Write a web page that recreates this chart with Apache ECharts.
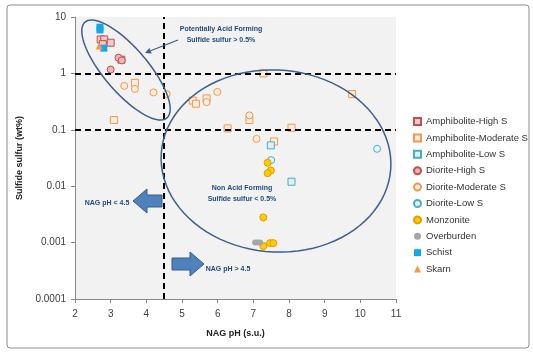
<!DOCTYPE html>
<html>
<head>
<meta charset="utf-8">
<script src="https://cdn.jsdelivr.net/npm/echarts@6/dist/echarts.min.js"></script>
<style>
html,body{margin:0;padding:0;background:#fff;}
#main{width:533px;height:352px;}
</style>
</head>
<body>
<div id="main"></div>
<script>
// values: [NAG pH, sulfide sulfur wt%]
var amphHigh = [[2.72, 4.0], [2.82, 4.0], [3.0, 3.5], [2.78, 3.3], [3.3, 1.75]];
var amphMod = [[3.68, 0.68], [3.09, 0.149], [5.3, 0.33], [5.39, 0.29], [5.69, 0.36], [6.89, 0.149],
               [6.28, 0.106], [8.07, 0.109], [7.58, 0.062], [9.77, 0.43], [7.28, 1.0]];
var amphLow = [[7.49, 0.053], [8.07, 0.012]];
var dioHigh = [[3.22, 1.9], [3.31, 1.7], [3.0, 1.17]];
var dioMod = [[3.38, 0.6], [3.68, 0.53], [4.2, 0.46], [4.57, 0.43], [5.69, 0.31], [5.99, 0.47],
              [6.89, 0.18], [7.09, 0.069]];
var dioLow = [[10.47, 0.046], [7.5, 0.029]];
var monzonite = [[7.4, 0.026], [7.49, 0.019], [7.4, 0.017], [7.28, 0.0028], [7.28, 0.00087],
                 [7.47, 0.00098], [7.56, 0.00098]];
var overburden = [[7.05, 0.001], [7.11, 0.001], [7.19, 0.001]];
var schist = [[2.7, 6.6], [2.7, 5.9], [2.81, 2.8]];
var skarn = [[2.68, 3.05]];

var xTicks = [2, 3, 4, 5, 6, 7, 8, 9, 10, 11];
var yTickLabels = ['0.0001', '0.001', '0.01', '0.1', '1', '10'];
var names = ['Amphibolite-High S', 'Amphibolite-Moderate S', 'Amphibolite-Low S', 'Diorite-High S',
             'Diorite-Moderate S', 'Diorite-Low S', 'Monzonite', 'Overburden', 'Schist', 'Skarn'];

function sc(name, data, symbol, fill, stroke, size) {
    return {
        name: name, type: 'scatter', data: data, symbol: symbol, symbolSize: size || 6,
        itemStyle: { color: fill, borderColor: stroke, borderWidth: stroke ? 1 : 0, opacity: 1 },
        z: 3
    };
}

function ellipse(cx, cy, rx, ry, deg) {
    var pts = [], a = deg * Math.PI / 180;
    for (var i = 0; i < 90; i++) {
        var t = i / 90 * Math.PI * 2;
        var x = rx * Math.cos(t), y = ry * Math.sin(t);
        pts.push([cx + x * Math.cos(a) - y * Math.sin(a), cy + x * Math.sin(a) + y * Math.cos(a)]);
    }
    return {
        type: 'polygon', shape: { points: pts }, z: 10,
        style: { fill: 'none', stroke: '#3d5f8a', lineWidth: 1.5 }
    };
}

function label(x, y, text) {
    return {
        type: 'text', x: x, y: y, z: 11,
        style: { text: text, fill: '#1f497d', font: 'bold 7px "Liberation Sans Narrow", "Liberation Sans", sans-serif',
                 align: 'center', verticalAlign: 'middle' }
    };
}

function blockArrow(pts) {
    return { type: 'polygon', shape: { points: pts }, z: 11,
             style: { fill: '#4f81bd', stroke: '#385d8a', lineWidth: 1 } };
}

// callout arrow head
var cs = [178, 40], ce = [145, 53];
var dl = Math.hypot(ce[0] - cs[0], ce[1] - cs[1]);
var dx = (ce[0] - cs[0]) / dl, dy = (ce[1] - cs[1]) / dl;
var hb = [ce[0] - dx * 6, ce[1] - dy * 6];

var myChart = echarts.init(document.getElementById('main'));
var option = {
    backgroundColor: '#fff',
    animation: false,
    textStyle: { fontFamily: '"Liberation Sans", sans-serif' },
    grid: { left: 75, top: 17, right: 137, bottom: 53, show: true, backgroundColor: '#f2f2f2', borderWidth: 0 },
    xAxis: {
        type: 'value', min: 2, max: 11, interval: 1,
        name: 'NAG pH (s.u.)', nameLocation: 'middle', nameGap: 30,
        nameTextStyle: { fontSize: 9, fontWeight: 'bold', color: '#222' },
        axisLine: { show: true, lineStyle: { color: '#888' } },
        axisTick: { show: true, length: 4, lineStyle: { color: '#888' } },
        axisLabel: { fontSize: 10, color: '#404040', margin: 10,
                     formatter: function (v) { return xTicks.indexOf(v) >= 0 ? String(v) : ''; } },
        splitLine: { show: false }
    },
    yAxis: {
        type: 'log', logBase: 10, min: 0.0001, max: 10,
        name: 'Sulfide sulfur (wt%)', nameLocation: 'middle', nameGap: 45,
        nameTextStyle: { fontSize: 9, fontWeight: 'bold', color: '#222' },
        axisLine: { show: true, lineStyle: { color: '#888' } },
        axisTick: { show: true, length: 4, lineStyle: { color: '#888' } },
        axisLabel: { fontSize: 10, color: '#404040', margin: 9,
                     formatter: function (v) { return yTickLabels[Math.round(Math.log10(v)) + 4]; } },
        splitLine: { show: false },
        minorTick: { show: false }
    },
    legend: {
        data: names, orient: 'vertical', left: 408, top: 111,
        itemWidth: 7, itemHeight: 7, itemGap: 5.4,
        textStyle: { fontSize: 9.5, color: '#333', lineHeight: 11 }
    },
    series: [
        sc(names[0], amphHigh, 'rect', '#f2c9c8', '#c0504d', 7),
        sc(names[1], amphMod, 'rect', '#fbeee4', '#f79646', 7),
        sc(names[2], amphLow, 'rect', '#def0f5', '#4bacc6', 7),
        sc(names[3], dioHigh, 'circle', '#e8b6b5', '#c0504d', 7),
        sc(names[4], dioMod, 'circle', '#fbeee4', '#f79646', 7),
        sc(names[5], dioLow, 'circle', '#e6f4f8', '#4bacc6', 7),
        sc(names[6], monzonite, 'circle', '#ffcc00', '#e69b00', 7),
        sc(names[7], overburden, 'circle', '#a6a6a6', null, 6),
        sc(names[8], schist, 'rect', '#10a8e6', null, 7),
        sc(names[9], skarn, 'triangle', '#f79646', null, 7),
        {
            name: 'limits', type: 'scatter', data: [], silent: true,
            markLine: {
                silent: true, symbol: 'none', label: { show: false },
                lineStyle: { color: '#000', width: 2, type: [6, 4] },
                data: [{ yAxis: 1 }, { yAxis: 0.1 }, { xAxis: 4.5 }]
            }
        }
    ],
    graphic: [
        { type: 'rect', shape: { x: 7, y: 5, width: 522, height: 343, r: 3 }, z: 0,
          style: { fill: 'none', stroke: '#8c8c8c', lineWidth: 1 } },
        ellipse(126, 70, 63, 22, 49.5),
        ellipse(276, 161, 115, 91, 4),
        label(221, 29, 'Potentially Acid Forming'),
        label(221, 40, 'Sulfide sulfur > 0.5%'),
        { type: 'line', shape: { x1: cs[0], y1: cs[1], x2: hb[0], y2: hb[1] }, z: 11,
          style: { stroke: '#385d8a', lineWidth: 1.2 } },
        { type: 'polygon', z: 11, style: { fill: '#385d8a' },
          shape: { points: [ce, [hb[0] - dy * 3, hb[1] + dx * 3], [hb[0] + dy * 3, hb[1] - dx * 3]] } },
        label(242, 188, 'Non Acid Forming'),
        label(242, 199, 'Sulfide sulfur < 0.5%'),
        blockArrow([[133, 201], [147, 189], [147, 195], [162, 195], [162, 207], [147, 207], [147, 213]]),
        label(107, 203, 'NAG pH < 4.5'),
        blockArrow([[172, 258], [190, 258], [190, 252], [204, 264], [190, 276], [190, 270], [172, 270]]),
        label(228, 269, 'NAG pH > 4.5')
    ]
};
option && myChart.setOption(option);
</script>
</body>
</html>
